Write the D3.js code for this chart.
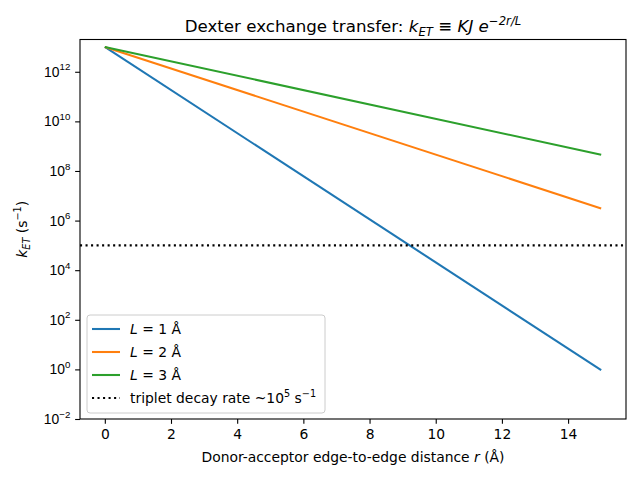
<!DOCTYPE html>
<html>
<head>
<meta charset="utf-8">
<script src="https://cdn.jsdelivr.net/npm/d3@7"></script>
<style>
  body { margin: 0; background: #fff; }
  svg { font-family: "DejaVu Sans", sans-serif; }
</style>
</head>
<body>
<div id="chart"></div>
<script>
// distance r (Å) at the two ends of each line
const rValues = [0, 15];
// k_ET (s^-1)
const kL1 = [1e13, 0.94];
const kL2 = [1e13, 3.1e6];
const kL3 = [1e13, 4.5e8];
const tripletRate = 1e5;

const seriesNames = ["1", "2", "3"];
const seriesColors = ["#1f77b4", "#ff7f0e", "#2ca02c"];
const xTicks = [0, 2, 4, 6, 8, 10, 12, 14];
const yTickExps = [-2, 0, 2, 4, 6, 8, 10, 12];

const W = 640, H = 480;
const margin = {top: 39.5, right: 14, bottom: 61, left: 80};
const width = W - margin.left - margin.right;
const height = H - margin.top - margin.bottom;
const fs = 13.89, sup = 9.7;

const svg = d3.select("#chart").append("svg")
    .attr("width", W).attr("height", H);

const g = svg.append("g")
    .attr("transform", `translate(${margin.left},${margin.top})`);

const x = d3.scaleLinear().domain([-0.75, 15.75]).range([0, width]);
const y = d3.scaleLog().domain([1e-2, 2e13]).range([height, 0]);

// lines
const series = [kL1, kL2, kL3];
const line = d3.line()
    .x(d => x(d[0]))
    .y(d => y(d[1]));

series.forEach((vals, i) => {
    g.append("path")
        .datum(rValues.map((r, j) => [r, vals[j]]))
        .attr("d", line)
        .attr("fill", "none")
        .attr("stroke", seriesColors[i])
        .attr("stroke-width", 2.08);
});

g.append("line")
    .attr("x1", 0).attr("x2", width)
    .attr("y1", y(tripletRate)).attr("y2", y(tripletRate))
    .attr("stroke", "#000")
    .attr("stroke-width", 2.08)
    .attr("stroke-dasharray", "2.08,3.44");

// axes
const xAxis = g.append("g")
    .attr("transform", `translate(0,${height})`)
    .call(d3.axisBottom(x).tickValues(xTicks).tickSize(4.86).tickPadding(4.86).tickFormat(d3.format("d")));

const yAxis = g.append("g")
    .call(d3.axisLeft(y).tickValues(yTickExps.map(e => Math.pow(10, e))).tickSize(4.86).tickPadding(4.86).tickFormat(""));

[xAxis, yAxis].forEach(a => {
    a.select(".domain").remove();
    a.selectAll("line").attr("stroke", "#000").attr("stroke-width", 1.1);
    a.selectAll("text").attr("font-size", fs).attr("fill", "#000")
        .attr("font-family", "DejaVu Sans");
});

yAxis.selectAll(".tick").each(function(d, i) {
    const t = d3.select(this).append("text")
        .attr("x", -9.7)
        .attr("dy", "0.32em")
        .attr("text-anchor", "end")
        .attr("font-size", fs)
        .attr("fill", "#000");
    t.append("tspan").text("10");
    t.append("tspan")
        .attr("font-size", sup)
        .attr("dy", "-0.65em")
        .text(String(yTickExps[i]).replace("-", "\u2212"));
});

// frame
g.append("rect")
    .attr("width", width).attr("height", height)
    .attr("fill", "none").attr("stroke", "#000").attr("stroke-width", 1.1);

// title
const title = svg.append("text")
    .attr("x", margin.left + width / 2)
    .attr("y", 32)
    .attr("text-anchor", "middle")
    .attr("font-size", 16.67)
    .attr("fill", "#000");
title.append("tspan").text("Dexter exchange transfer: ");
title.append("tspan").attr("font-style", "italic").text("k");
title.append("tspan").attr("font-style", "italic").attr("font-size", 11.7).attr("dy", 3.5).text("ET");
title.append("tspan").attr("dy", -3.5).text(" \u2261 ");
title.append("tspan").attr("font-style", "italic").text("KJ e");
title.append("tspan").attr("font-style", "italic").attr("font-size", 11.7).attr("dy", -7).text("\u22122r/L");

// x label
const xl = svg.append("text")
    .attr("x", margin.left + width / 2)
    .attr("y", 462)
    .attr("text-anchor", "middle")
    .attr("font-size", fs)
    .attr("fill", "#000");
xl.append("tspan").text("Donor-acceptor edge-to-edge distance ");
xl.append("tspan").attr("font-style", "italic").text("r");
xl.append("tspan").text(" (\u00c5)");

// y label
const yl = svg.append("text")
    .attr("transform", `translate(27,${margin.top + height / 2}) rotate(-90)`)
    .attr("text-anchor", "middle")
    .attr("font-size", fs)
    .attr("fill", "#000");
yl.append("tspan").attr("font-style", "italic").text("k");
yl.append("tspan").attr("font-style", "italic").attr("font-size", sup).attr("dy", 3).text("ET");
yl.append("tspan").attr("dy", -3).text(" (s");
yl.append("tspan").attr("font-size", sup).attr("dy", -6).text("\u22121");
yl.append("tspan").attr("dy", 6).text(")");

// legend
const legend = svg.append("g").attr("transform", "translate(87,315)");
legend.append("rect")
    .attr("width", 238).attr("height", 98)
    .attr("rx", 3).attr("ry", 3)
    .attr("fill", "#fff").attr("fill-opacity", 0.8)
    .attr("stroke", "#ccc").attr("stroke-width", 1);

seriesNames.forEach((name, i) => {
    const yy = 14 + i * 23;
    legend.append("line")
        .attr("x1", 5).attr("x2", 33).attr("y1", yy).attr("y2", yy)
        .attr("stroke", seriesColors[i]).attr("stroke-width", 2.08);
    const t = legend.append("text")
        .attr("x", 43).attr("y", yy).attr("dy", "0.35em")
        .attr("font-size", fs).attr("fill", "#000");
    t.append("tspan").attr("font-style", "italic").text("L");
    t.append("tspan").text(` = ${name} \u00c5`);
});

const yy = 14 + 3 * 23;
legend.append("line")
    .attr("x1", 5).attr("x2", 33).attr("y1", yy).attr("y2", yy)
    .attr("stroke", "#000").attr("stroke-width", 2.08)
    .attr("stroke-dasharray", "2.08,3.44");
const tt = legend.append("text")
    .attr("x", 43).attr("y", yy).attr("dy", "0.35em")
    .attr("font-size", fs).attr("fill", "#000");
tt.append("tspan").text("triplet decay rate ~10");
tt.append("tspan").attr("font-size", sup).attr("dy", -6).text("5");
tt.append("tspan").attr("dy", 6).text(" s");
tt.append("tspan").attr("font-size", sup).attr("dy", -6).text("\u22121");
</script>
</body>
</html>
